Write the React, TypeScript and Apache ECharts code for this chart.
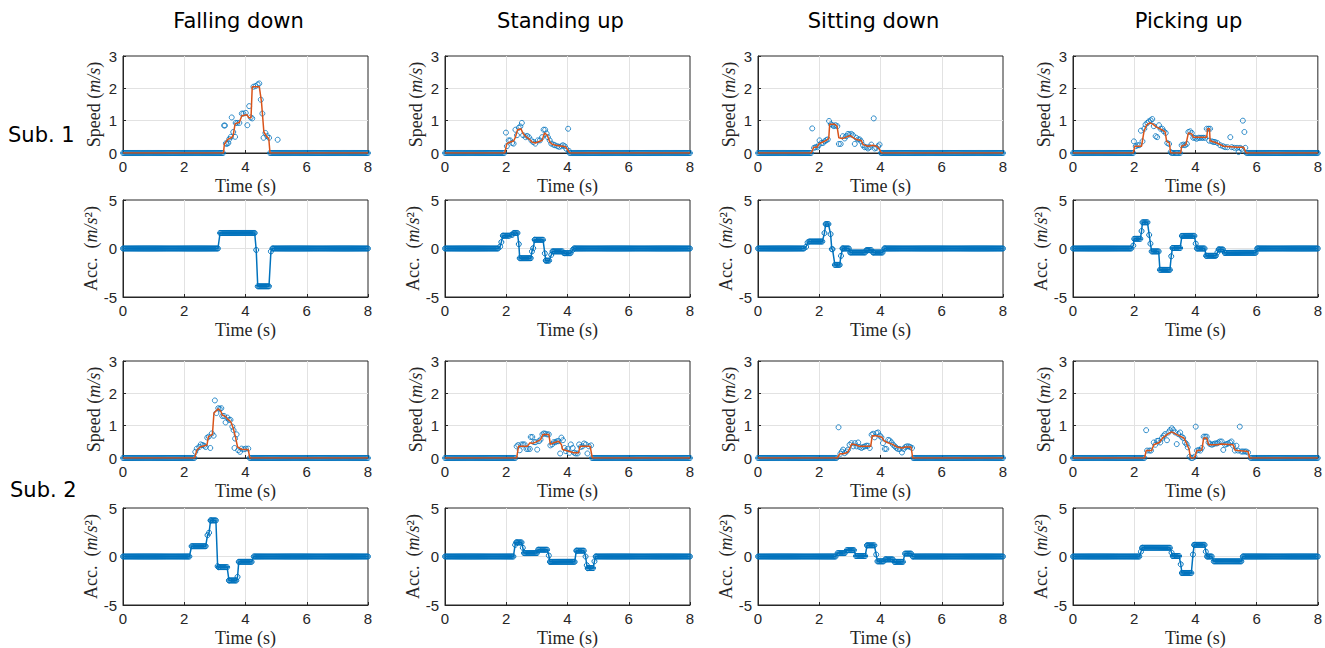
import React, { useEffect, useRef } from "react";
import * as echarts from "echarts";

// ---------- labels ----------
const TITLES = ["Falling down", "Standing up", "Sitting down", "Picking up"];
const SUBJECTS = ["Sub. 1", "Sub. 2"];
const X_MIN = 0;
const X_MAX = 8;
const X_INTERVAL = 2;
const SPEED_RANGE = [0, 3, 1];
const ACC_RANGE = [-5, 5, 5];
const SAMPLE_RATE = 30; // samples per second of the recorded signals

// ---------- Sub. 1 : Falling down ----------
const fallS1Active = [3.28, 4.8];
const fallS1Raw = [
  [3.3, 0.85], [3.33, 0.85], [3.36, 0.3], [3.39, 0.28], [3.44, 0.31], [3.47, 0.43], [3.52, 0.5], [3.55, 1.1],
  [3.6, 0.65], [3.66, 0.5], [3.68, 0.93], [3.73, 0.93], [3.8, 0.93], [3.88, 1.22], [3.93, 1.22], [4.01, 1.24],
  [4.06, 0.86], [4.12, 1.45], [4.17, 1.1], [4.22, 1.07], [4.26, 2.05], [4.33, 2.07], [4.4, 2.12], [4.45, 2.15],
  [4.5, 1.65], [4.55, 1.22], [4.59, 0.47], [4.65, 0.62], [4.71, 0.52], [4.77, 0.47], [5.05, 0.41],
];
const fallS1Smooth = [
  [0, 0], [3.28, 0], [3.31, 0.27], [3.42, 0.42], [3.55, 0.48], [3.6, 0.55], [3.66, 0.9], [3.8, 0.95], [3.88, 1.15],
  [4.05, 1.18], [4.1, 1.1], [4.18, 1.08], [4.22, 2.05], [4.45, 2.05], [4.52, 1.6], [4.6, 0.65], [4.7, 0.5],
  [4.76, 0.45], [4.8, 0], [8, 0],
];
const fallS1Acc = [
  [0, 3.13, 0], [3.17, 4.32, 1.6], [4.35, 4.35, -0.15], [4.4, 4.79, -3.9], [4.83, 4.83, -0.3], [4.88, 8, 0],
];

// ---------- Sub. 1 : Standing up ----------
const standS1Active = [1.95, 4.05];
const standS1Raw = [
  [1.99, 0.63], [2.02, 0.21], [2.08, 0.39], [2.13, 0.39], [2.19, 0.31], [2.24, 0.29], [2.3, 0.72], [2.35, 0.55],
  [2.41, 0.78], [2.46, 0.82], [2.51, 0.93], [2.55, 0.55], [2.63, 0.49], [2.68, 0.53], [2.74, 0.49], [2.82, 0.39],
  [2.88, 0.34], [2.95, 0.29], [3.03, 0.39], [3.1, 0.39], [3.17, 0.49], [3.22, 0.72], [3.27, 0.72], [3.32, 0.6],
  [3.36, 0.49], [3.42, 0.39], [3.47, 0.29], [3.54, 0.26], [3.59, 0.24], [3.67, 0.21], [3.73, 0.19], [3.8, 0.21],
  [3.85, 0.24], [3.91, 0.21], [3.96, 0.13], [4.02, 0.75], [4.05, 0.06],
];
const standS1Smooth = [
  [0, 0], [1.95, 0], [2.02, 0.29], [2.13, 0.34], [2.24, 0.37], [2.3, 0.49], [2.37, 0.72], [2.48, 0.75], [2.55, 0.6],
  [2.66, 0.49], [2.74, 0.44], [2.84, 0.34], [2.95, 0.31], [3.03, 0.34], [3.12, 0.37], [3.17, 0.39], [3.25, 0.62],
  [3.34, 0.55], [3.42, 0.34], [3.5, 0.27], [3.61, 0.24], [3.83, 0.21], [3.94, 0.19], [4.05, 0.03], [4.08, 0], [8, 0],
];
const standS1Acc = [
  [0, 1.75, 0], [1.8, 1.8, 0.2], [1.84, 1.84, 0.66], [1.89, 2.13, 1.32], [2.17, 2.21, 1.42], [2.25, 2.37, 1.6],
  [2.41, 2.41, 0.45], [2.44, 2.81, -1.0], [2.84, 2.84, -0.3], [2.88, 2.88, 0.03], [2.93, 3.23, 0.9],
  [3.26, 3.26, -0.5], [3.29, 3.43, -1.25], [3.47, 3.47, -0.66], [3.51, 3.85, -0.3], [3.89, 4.12, -0.48],
  [4.17, 4.17, -0.14], [4.21, 8, 0],
];

// ---------- Sub. 1 : Sitting down ----------
const sitS1Active = [1.74, 4.02];
const sitS1Raw = [
  [1.77, 0.76], [1.83, 0.16], [1.88, 0.18], [1.94, 0.18], [1.98, 0.24], [2.01, 0.39], [2.07, 0.31], [2.12, 0.31],
  [2.18, 0.36], [2.23, 0.4], [2.28, 0.42], [2.32, 0.99], [2.38, 0.89], [2.43, 0.86], [2.48, 0.83], [2.53, 0.86],
  [2.59, 0.83], [2.64, 0.28], [2.7, 0.28], [2.77, 0.52], [2.83, 0.45], [2.88, 0.52], [2.94, 0.59], [2.99, 0.57],
  [3.05, 0.59], [3.1, 0.55], [3.16, 0.28], [3.21, 0.47], [3.27, 0.42], [3.32, 0.42], [3.37, 0.36], [3.43, 0.24],
  [3.48, 0.18], [3.54, 0.18], [3.59, 0.14], [3.65, 0.18], [3.7, 0.26], [3.78, 1.07], [3.81, 0.14], [3.86, 0.16],
  [3.92, 0.21], [3.97, 0.26], [4.02, 0.0],
];
const sitS1Smooth = [
  [0, 0], [1.74, 0], [1.82, 0.18], [1.93, 0.18], [1.99, 0.28], [2.12, 0.34], [2.23, 0.39], [2.31, 0.45], [2.34, 0.89],
  [2.5, 0.89], [2.58, 0.83], [2.64, 0.47], [2.75, 0.45], [2.88, 0.49], [3.01, 0.54], [3.12, 0.47], [3.21, 0.42],
  [3.37, 0.39], [3.43, 0.26], [3.59, 0.21], [3.75, 0.24], [3.88, 0.21], [3.95, 0.14], [4.03, 0], [8, 0],
];
const sitS1Acc = [
  [0, 1.52, 0], [1.57, 1.57, 0.17], [1.62, 1.62, 0.62], [1.67, 2.12, 0.72], [2.17, 2.17, 1.59], [2.21, 2.33, 2.52],
  [2.37, 2.37, 1.48], [2.41, 2.46, -0.07], [2.51, 2.67, -1.69], [2.71, 2.71, -0.76], [2.76, 2.97, 0],
  [3.01, 3.5, -0.41], [3.54, 3.7, -0.17], [3.76, 4.08, -0.41], [4.13, 8, 0],
];

// ---------- Sub. 1 : Picking up ----------
const pickS1Active = [1.97, 5.66];
const pickS1Raw = [
  [1.99, 0.36], [2.05, 0.21], [2.11, 0.24], [2.16, 0.24], [2.22, 0.69], [2.27, 0.36], [2.33, 0.75], [2.37, 0.88],
  [2.43, 0.93], [2.48, 0.98], [2.54, 1.01], [2.59, 1.05], [2.64, 0.83], [2.7, 0.52], [2.75, 0.49], [2.81, 0.86],
  [2.86, 0.75], [2.92, 0.75], [2.97, 0.67], [3.03, 0.62], [3.08, 0.31], [3.14, 0.28], [3.19, 0.03],
  [3.22, 0], [3.26, 0], [3.3, 0], [3.34, 0], [3.38, 0], [3.42, 0], [3.46, 0], [3.5, 0],
  [3.55, 0.24], [3.61, 0.26], [3.66, 0.24], [3.72, 0.28], [3.77, 0.65], [3.83, 0.67], [3.88, 0.62], [3.93, 0.47],
  [3.99, 0.47], [4.04, 0.44], [4.1, 0.47], [4.15, 0.47], [4.21, 0.47], [4.26, 0.47], [4.32, 0.47], [4.37, 0.75],
  [4.43, 0.75], [4.48, 0.75], [4.45, 0.38], [4.54, 0.36], [4.59, 0.34], [4.64, 0.34], [4.72, 0.31], [4.81, 0.24],
  [4.9, 0.21], [4.97, 0.18], [5.05, 0.18], [5.14, 0.49], [5.19, 0.18], [5.27, 0.16], [5.36, 0.16], [5.41, 0.03],
  [5.46, 0.16], [5.52, 0.13], [5.55, 1.0], [5.6, 0.65], [5.63, 0.16],
];
const pickS1Smooth = [
  [0, 0], [1.97, 0], [2.02, 0.21], [2.24, 0.21], [2.32, 0.67], [2.4, 0.86], [2.51, 0.93], [2.6, 0.9], [2.73, 0.8],
  [2.9, 0.72], [3.01, 0.65], [3.06, 0.36], [3.15, 0.31], [3.19, 0], [3.52, 0], [3.55, 0.21], [3.69, 0.26],
  [3.77, 0.62], [3.88, 0.59], [3.93, 0.49], [4.37, 0.49], [4.4, 0.75], [4.46, 0.75], [4.48, 0.38], [4.7, 0.31],
  [4.92, 0.21], [5.36, 0.18], [5.57, 0.18], [5.66, 0], [8, 0],
];
const pickS1Acc = [
  [0, 1.93, 0], [1.97, 1.97, 0.3], [2.0, 2.2, 1.0], [2.24, 2.24, 1.8], [2.27, 2.45, 2.7], [2.49, 2.49, 1.4],
  [2.53, 2.53, 0.5], [2.57, 2.8, -0.3], [2.84, 3.17, -2.2], [3.21, 3.21, -0.8], [3.25, 3.52, 0.05],
  [3.56, 3.97, 1.3], [4.01, 4.01, 0.5], [4.05, 4.31, 0], [4.35, 4.68, -0.75], [4.72, 4.72, -0.4],
  [4.76, 4.92, -0.1], [4.96, 5.98, -0.45], [6.02, 8, 0],
];

// ---------- Sub. 2 : Falling down ----------
const fallS2Active = [2.34, 4.13];
const fallS2Raw = [
  [2.36, 0.19], [2.41, 0.29], [2.49, 0.34], [2.54, 0.42], [2.6, 0.4], [2.65, 0.38], [2.7, 0.34], [2.75, 0.63],
  [2.8, 0.66], [2.85, 0.31], [2.9, 0.76], [2.96, 0.69], [3.0, 1.78], [3.05, 1.39], [3.11, 1.54], [3.16, 1.52],
  [3.21, 1.54], [3.24, 1.3], [3.3, 1.3], [3.35, 1.1], [3.41, 1.25], [3.46, 1.18], [3.51, 1.18], [3.57, 0.97],
  [3.61, 0.86], [3.64, 0.31], [3.66, 0.6], [3.71, 0.73], [3.76, 0.24], [3.82, 0.19], [3.87, 0.29], [3.95, 0.27],
  [4.01, 0.29], [4.09, 0.29],
];
const fallS2Smooth = [
  [0, 0], [2.34, 0], [2.41, 0.24], [2.52, 0.34], [2.74, 0.4], [2.79, 0.66], [2.92, 0.73], [2.97, 1.39], [3.11, 1.52],
  [3.2, 1.44], [3.24, 1.33], [3.35, 1.28], [3.41, 1.21], [3.52, 1.12], [3.6, 0.92], [3.67, 0.66], [3.74, 0.34],
  [3.87, 0.27], [4.09, 0.26], [4.14, 0], [8, 0],
];
const fallS2Acc = [
  [0, 2.19, 0], [2.24, 2.72, 1.06], [2.76, 2.76, 2.2], [2.81, 2.81, 2.45], [2.86, 3.05, 3.72], [3.09, 3.09, -1.0],
  [3.12, 3.42, -1.1], [3.46, 3.7, -2.47], [3.74, 3.74, -2.1], [3.78, 4.22, -0.55], [4.27, 8, 0],
];

// ---------- Sub. 2 : Standing up ----------
const standS2Active = [2.33, 4.8];
const standS2Raw = [
  [2.34, 0.36], [2.39, 0.4], [2.44, 0.24], [2.5, 0.42], [2.55, 0.42], [2.6, 0.42], [2.66, 0.28], [2.71, 0.28],
  [2.77, 0.28], [2.8, 0.65], [2.85, 0.65], [2.91, 0.49], [2.96, 0.49], [3.01, 0.26], [3.07, 0.52], [3.12, 0.57],
  [3.18, 0.73], [3.23, 0.76], [3.28, 0.75], [3.34, 0.73], [3.39, 0.73], [3.44, 0.39], [3.5, 0.42], [3.55, 0.49],
  [3.61, 0.49], [3.66, 0.52], [3.71, 0.52], [3.76, 0.14], [3.8, 0.63], [3.85, 0.55], [3.9, 0.31], [3.95, 0.21],
  [4.0, 0.28], [4.06, 0.16], [4.11, 0.42], [4.17, 0.31], [4.22, 0.16], [4.27, 0.14], [4.33, 0.14], [4.38, 0.42],
  [4.43, 0.34], [4.49, 0.36], [4.54, 0.45], [4.6, 0.42], [4.65, 0.14], [4.7, 0.36], [4.77, 0.39],
];
const standS2Smooth = [
  [0, 0], [2.34, 0], [2.4, 0.36], [2.69, 0.36], [2.77, 0.47], [2.85, 0.45], [2.96, 0.49], [3.12, 0.57], [3.2, 0.73],
  [3.39, 0.73], [3.44, 0.42], [3.55, 0.47], [3.71, 0.52], [3.8, 0.42], [3.84, 0.26], [4.04, 0.21], [4.2, 0.16],
  [4.36, 0.16], [4.41, 0.36], [4.74, 0.36], [4.81, 0], [8, 0],
];
const standS2Acc = [
  [0, 2.25, 0], [2.29, 2.29, 1.2], [2.33, 2.5, 1.45], [2.54, 2.54, 0.9], [2.58, 3.0, 0.35], [3.04, 3.35, 0.7],
  [3.39, 3.39, 0.1], [3.43, 4.25, -0.55], [4.29, 4.55, 0.6], [4.59, 4.59, 0.0], [4.63, 4.63, -0.9],
  [4.66, 4.84, -1.2], [4.88, 4.88, -0.5], [4.92, 8, 0],
];

// ---------- Sub. 2 : Sitting down ----------
const sitS2Active = [2.59, 5.05];
const sitS2Raw = [
  [2.63, 0.95], [2.69, 0.13], [2.74, 0.2], [2.78, 0.26], [2.83, 0.15], [2.89, 0.2], [2.94, 0.26], [2.99, 0.41],
  [3.05, 0.46], [3.11, 0.36], [3.16, 0.46], [3.22, 0.36], [3.27, 0.48], [3.32, 0.34], [3.38, 0.31], [3.43, 0.34],
  [3.49, 0.36], [3.54, 0.38], [3.59, 0.38], [3.65, 0.31], [3.71, 0.72], [3.76, 0.75], [3.81, 0.64], [3.87, 0.77],
  [3.92, 0.79], [3.98, 0.69], [4.03, 0.64], [4.08, 0.46], [4.14, 0.28], [4.19, 0.28], [4.25, 0.56], [4.3, 0.54],
  [4.36, 0.48], [4.41, 0.41], [4.47, 0.36], [4.52, 0.31], [4.57, 0.28], [4.63, 0.28], [4.7, 0.17], [4.76, 0.28],
  [4.81, 0.34], [4.86, 0.36], [4.92, 0.36], [4.97, 0.34], [5.03, 0.31],
];
const sitS2Smooth = [
  [0, 0], [2.59, 0], [2.67, 0.13], [2.78, 0.13], [2.92, 0.17], [2.99, 0.28], [3.06, 0.43], [3.19, 0.41], [3.3, 0.36],
  [3.68, 0.36], [3.73, 0.69], [3.86, 0.69], [4.05, 0.64], [4.11, 0.54], [4.22, 0.48], [4.38, 0.43], [4.54, 0.34],
  [4.7, 0.31], [4.81, 0.34], [5.0, 0.34], [5.05, 0], [8, 0],
];
const sitS2Acc = [
  [0, 2.55, 0], [2.6, 2.85, 0.35], [2.9, 3.15, 0.65], [3.2, 3.52, 0.05], [3.56, 3.82, 1.15], [3.86, 3.86, 0.2],
  [3.9, 4.12, -0.5], [4.16, 4.42, -0.3], [4.46, 4.76, -0.55], [4.8, 5.0, 0.3], [5.05, 8, 0],
];

// ---------- Sub. 2 : Picking up ----------
const pickS2Active = [2.34, 5.77];
const pickS2Raw = [
  [2.39, 0.86], [2.42, 0.23], [2.5, 0.23], [2.55, 0.23], [2.64, 0.48], [2.69, 0.41], [2.75, 0.53], [2.8, 0.53],
  [2.85, 0.48], [2.91, 0.62], [2.96, 0.69], [3.01, 0.74], [3.07, 0.55], [3.12, 0.79], [3.17, 0.86], [3.23, 0.92],
  [3.28, 0.86], [3.34, 0.79], [3.39, 0.43], [3.44, 0.74], [3.5, 0.79], [3.55, 0.66], [3.6, 0.62], [3.66, 0.48],
  [3.71, 0.43], [3.75, 0.33], [3.81, 0.04], [3.86, 0], [3.91, 0], [3.97, 0.04], [4.01, 0.97], [4.05, 0.23],
  [4.11, 0.25], [4.16, 0.23], [4.21, 0.31], [4.27, 0.66], [4.32, 0.66], [4.37, 0.66], [4.43, 0.48], [4.48, 0.43],
  [4.54, 0.41], [4.59, 0.43], [4.64, 0.45], [4.7, 0.45], [4.75, 0.48], [4.8, 0.51], [4.86, 0.51], [4.91, 0.25],
  [4.97, 0.41], [5.02, 0.43], [5.07, 0.45], [5.13, 0.48], [5.18, 0.51], [5.23, 0.38], [5.29, 0.23], [5.34, 0.38],
  [5.39, 0.23], [5.45, 0.97], [5.5, 0.2], [5.55, 0.2], [5.61, 0.2], [5.66, 0.2], [5.72, 0.17],
];
const pickS2Smooth = [
  [0, 0], [2.34, 0], [2.39, 0.23], [2.57, 0.23], [2.64, 0.41], [2.82, 0.48], [2.93, 0.62], [3.09, 0.74], [3.22, 0.81],
  [3.32, 0.76], [3.46, 0.69], [3.62, 0.62], [3.71, 0.45], [3.79, 0.28], [3.84, 0], [3.97, 0], [4.05, 0.23],
  [4.21, 0.25], [4.27, 0.62], [4.37, 0.62], [4.43, 0.41], [4.7, 0.41], [4.86, 0.43], [5.23, 0.41], [5.29, 0.25],
  [5.39, 0.23], [5.72, 0.2], [5.77, 0], [8, 0],
];
const pickS2Acc = [
  [0, 2.18, 0], [2.22, 2.22, 0.5], [2.26, 3.18, 0.9], [3.22, 3.22, 0.4], [3.26, 3.48, 0.05], [3.52, 3.52, -0.8],
  [3.56, 3.88, -1.7], [3.92, 3.92, 0.2], [3.96, 4.3, 1.2], [4.34, 4.34, 0.5], [4.38, 4.55, 0], [4.6, 5.5, -0.5],
  [5.55, 8, 0],
];

// ---------- panel table (row = speed / acc of each subject) ----------
const SPEED_PANELS = [
  [
    { raw: fallS1Raw, smooth: fallS1Smooth, active: fallS1Active },
    { raw: standS1Raw, smooth: standS1Smooth, active: standS1Active },
    { raw: sitS1Raw, smooth: sitS1Smooth, active: sitS1Active },
    { raw: pickS1Raw, smooth: pickS1Smooth, active: pickS1Active },
  ],
  [
    { raw: fallS2Raw, smooth: fallS2Smooth, active: fallS2Active },
    { raw: standS2Raw, smooth: standS2Smooth, active: standS2Active },
    { raw: sitS2Raw, smooth: sitS2Smooth, active: sitS2Active },
    { raw: pickS2Raw, smooth: pickS2Smooth, active: pickS2Active },
  ],
];
const ACC_PANELS = [
  [fallS1Acc, standS1Acc, sitS1Acc, pickS1Acc],
  [fallS2Acc, standS2Acc, sitS2Acc, pickS2Acc],
];

// ---------- layout & style ----------
const COL_LEFT = [123, 445, 758, 1073];
const COL_WIDTH = 245;
const ROW_TOP = [56, 200, 361, 508];
const ROW_HEIGHT = 97;
const BLUE = "#0072BD";
const ORANGE = "#D95319";
const AXIS_COLOR = "#262626";
const GRID_COLOR = "#e2e2e2";
const SANS = "'Liberation Sans', Arial, sans-serif";
const SERIF = "'Liberation Serif', 'Times New Roman', serif";
const TITLE_FONT = "'DejaVu Sans', Verdana, sans-serif";

function sampleTimes(t0: number, t1: number): number[] {
  const out: number[] = [];
  for (let i = Math.ceil(t0 * SAMPLE_RATE - 1e-6); i / SAMPLE_RATE <= t1 + 1e-6; i++) out.push(i / SAMPLE_RATE);
  return out;
}

function speedMarkers(raw: number[][], active: number[]) {
  const zerosBefore = sampleTimes(X_MIN, active[0]).map((t) => [t, 0]);
  const zerosAfter = sampleTimes(active[1], X_MAX).map((t) => [t, 0]);
  return [...zerosBefore, ...raw, ...zerosAfter];
}

function accPoints(steps: number[][]) {
  const pts: number[][] = [];
  steps.forEach(([a, b, v]) => {
    if (a === b) pts.push([a, v]);
    else {
      pts.push([a, v]);
      sampleTimes(a + 1e-3, b).forEach((t) => pts.push([t, v]));
    }
  });
  return pts;
}

function buildOption() {
  const grid: any[] = [];
  const xAxis: any[] = [];
  const yAxis: any[] = [];
  const series: any[] = [];

  for (let r = 0; r < 4; r++) {
    const isSpeed = r % 2 === 0;
    const subj = Math.floor(r / 2);
    for (let c = 0; c < 4; c++) {
      const k = grid.length;
      grid.push({
        left: COL_LEFT[c],
        top: ROW_TOP[r],
        width: COL_WIDTH,
        height: ROW_HEIGHT,
        show: true,
        borderColor: AXIS_COLOR,
        borderWidth: 1,
        backgroundColor: "#ffffff",
      });
      xAxis.push({
        gridIndex: k,
        type: "value",
        min: X_MIN,
        max: X_MAX,
        interval: X_INTERVAL,
        name: "Time (s)",
        nameLocation: "middle",
        nameGap: 24,
        nameTextStyle: { fontFamily: SERIF, fontSize: 18, color: AXIS_COLOR },
        axisLine: { show: true, onZero: false, lineStyle: { color: AXIS_COLOR, width: 1 } },
        axisTick: { show: true, inside: true, length: 3, lineStyle: { color: AXIS_COLOR } },
        axisLabel: { fontFamily: SANS, fontSize: 15, color: AXIS_COLOR, margin: 6 },
        splitLine: { show: true, showMinLine: false, showMaxLine: false, lineStyle: { color: GRID_COLOR, width: 1 } },
      });
      const rng = isSpeed ? SPEED_RANGE : ACC_RANGE;
      yAxis.push({
        gridIndex: k,
        type: "value",
        min: rng[0],
        max: rng[1],
        interval: rng[2],
        name: isSpeed ? "Speed ({i|m/s})" : "Acc.  ({i|m/s}²)",
        nameLocation: "middle",
        nameGap: isSpeed ? 20 : 22,
        nameTextStyle: {
          fontFamily: SERIF,
          fontSize: 18,
          color: AXIS_COLOR,
          rich: { i: { fontFamily: SERIF, fontSize: 18, fontStyle: "italic", color: AXIS_COLOR } },
        },
        axisLine: { show: true, onZero: false, lineStyle: { color: AXIS_COLOR, width: 1 } },
        axisTick: { show: true, inside: true, length: 3, lineStyle: { color: AXIS_COLOR } },
        axisLabel: { fontFamily: SANS, fontSize: 15, color: AXIS_COLOR, margin: 6 },
        splitLine: { show: true, showMinLine: false, showMaxLine: false, lineStyle: { color: GRID_COLOR, width: 1 } },
      });

      if (isSpeed) {
        const p = SPEED_PANELS[subj][c];
        series.push({
          type: "scatter",
          xAxisIndex: k,
          yAxisIndex: k,
          data: speedMarkers(p.raw, p.active),
          symbol: "circle",
          symbolSize: 5,
          itemStyle: { color: "rgba(0,0,0,0)", borderColor: BLUE, borderWidth: 1 },
          silent: true,
          z: 2,
        });
        series.push({
          type: "line",
          xAxisIndex: k,
          yAxisIndex: k,
          data: p.smooth,
          symbol: "none",
          showSymbol: false,
          lineStyle: { color: ORANGE, width: 1.5 },
          silent: true,
          z: 3,
        });
      } else {
        series.push({
          type: "line",
          xAxisIndex: k,
          yAxisIndex: k,
          data: accPoints(ACC_PANELS[subj][c]),
          symbol: "circle",
          symbolSize: 5,
          showSymbol: true,
          itemStyle: { color: "rgba(0,0,0,0)", borderColor: BLUE, borderWidth: 1 },
          lineStyle: { color: BLUE, width: 1.5 },
          silent: true,
          z: 2,
        });
      }
    }
  }

  const colCenters = COL_LEFT.map((l) => l + COL_WIDTH / 2 - 7);
  const graphic: any[] = [
    ...TITLES.map((t, i) => ({
      type: "text",
      x: colCenters[i],
      y: 21,
      style: { text: t, font: `21px ${TITLE_FONT}`, fill: "#000", align: "center", verticalAlign: "middle" },
    })),
    {
      type: "text",
      x: 8,
      y: 135,
      style: { text: SUBJECTS[0], font: `21px ${TITLE_FONT}`, fill: "#000", align: "left", verticalAlign: "middle" },
    },
    {
      type: "text",
      x: 10,
      y: 490,
      style: { text: SUBJECTS[1], font: `21px ${TITLE_FONT}`, fill: "#000", align: "left", verticalAlign: "middle" },
    },
  ];

  return { animation: false, backgroundColor: "#ffffff", grid, xAxis, yAxis, series, graphic };
}

export default function App() {
  const ref = useRef<HTMLDivElement>(null);
  useEffect(() => {
    if (!ref.current) return;
    const chart = echarts.init(ref.current, undefined, { renderer: "svg" });
    chart.setOption(buildOption() as any);
    return () => chart.dispose();
  }, []);
  return <div ref={ref} style={{ position: "absolute", left: 0, top: 0, width: 1325, height: 648 }} />;
}
